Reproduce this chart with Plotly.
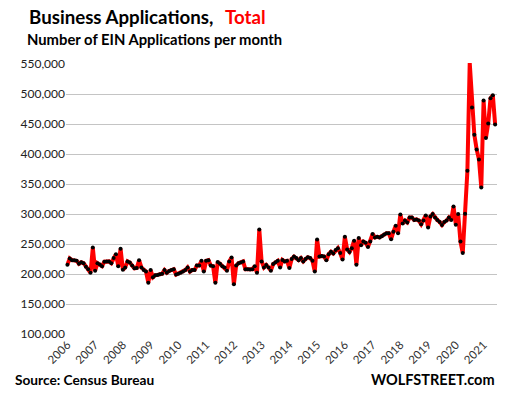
import plotly.graph_objects as go

years = [str(y) for y in range(2006, 2022)]
year_positions = [12 * k for k in range(16)]

# Monthly business applications (thousands), Jan 2006 - Jun 2021
apps_thousands = [
    215.5, 226, 223, 223, 222, 217, 219.5, 218, 212, 208, 202, 244,
    205.5, 218, 216, 213, 220.5, 221, 221, 218, 226.5, 233, 213, 242,
    207, 211, 221, 219, 214, 209.5, 210, 223, 211, 206.5, 204, 185.5,
    206.5, 194.5, 198, 198.5, 199.5, 200.5, 206.5, 202, 205, 206.5, 208, 199,
    200.5, 202, 204, 206.5, 211, 204, 206.5, 206.5, 214, 214, 222, 204,
    222, 223, 214, 213, 185.5, 220, 217, 213, 211, 205.5, 221, 227.7,
    183, 214, 218, 219, 221, 208, 208, 207.5, 208, 213, 202, 274.3,
    221, 211, 215, 211, 205.5, 216.7, 219.5, 222, 211, 223.5, 221, 222,
    210, 225, 229, 226.5, 223, 226.5, 221, 225, 228, 226.5, 222, 204,
    257.7, 229, 230, 229, 223, 233, 237, 234, 240, 243, 235, 224,
    262, 241, 236.5, 243, 255.5, 215.5, 260, 248, 254, 252, 245, 254,
    266.7, 261, 262, 261, 263, 266, 268, 268, 258, 270.5, 280.5, 268,
    299, 284, 289, 286, 294, 294, 290, 291, 289, 283, 289, 297.7,
    277.7, 296, 300, 294, 290, 286.7, 281.7, 286.7, 289, 294, 290, 312.7,
    282, 300, 254, 235, 300.5, 372, 552, 477.7, 432, 407.7, 391, 344.3,
    489, 426.7, 451, 493, 498, 449,
]
apps = [v * 1000 for v in apps_thousands]
month_index = list(range(len(apps)))

y_ticks = list(range(100000, 550001, 50000))
y_tick_text = [f"{v:,}" for v in y_ticks]

W, H = 508, 395
L, R, T, B = 66, 11, 63, 60
PW, PH = W - L - R, H - T - B
units_per_px = 50000 / 30.0
# 100,000 sits at y=334 px, 550,000 at y=64 px
y_lo = 100000 - (H - B - 334) * units_per_px
y_hi = y_lo + PH * units_per_px


def px(x):
    return (x - L) / PW


def py(y):
    return (H - B - y) / PH


fig = go.Figure()
fig.add_trace(go.Scatter(
    x=month_index, y=apps, mode="lines+markers",
    line=dict(color="#ff0000", width=4),
    marker=dict(color="#000000", size=4),
    cliponaxis=False, hoverinfo="skip", showlegend=False,
))

font_family = "Lato, Carlito, 'DejaVu Sans', sans-serif"

fig.update_layout(
    width=W, height=H,
    margin=dict(l=L, r=R, t=T, b=B, pad=0, autoexpand=False),
    paper_bgcolor="white", plot_bgcolor="white",
    font=dict(family=font_family, color="#222222", size=12),
    xaxis=dict(
        range=[-0.6, 185.8], tickmode="array",
        tickvals=year_positions, ticktext=years, tickangle=-45,
        showgrid=False, zeroline=False, showline=False, ticks="",
        automargin=False,
        tickfont=dict(size=11.5, color="#333333"),
    ),
    yaxis=dict(
        range=[y_lo, y_hi], tickmode="array", tickvals=y_ticks,
        ticktext=y_tick_text,
        showgrid=True, gridcolor="#c4c4c4", gridwidth=1.2,
        zeroline=False, showline=False, ticks="",
        automargin=False,
        tickfont=dict(size=12, color="#222222"),
    ),
    annotations=[
        dict(x=px(27), y=py(17), xref="paper", yref="paper",
             xanchor="left", yanchor="middle", showarrow=False,
             text="<b>Business Applications,</b>",
             font=dict(size=18.7, color="#000000")),
        dict(x=px(223), y=py(17), xref="paper", yref="paper",
             xanchor="left", yanchor="middle", showarrow=False,
             text="<b>Total</b>",
             font=dict(size=18.7, color="#ff0000")),
        dict(x=px(25), y=py(39), xref="paper", yref="paper",
             xanchor="left", yanchor="middle", showarrow=False,
             text="<b>Number of EIN Applications per month</b>",
             font=dict(size=14.8, color="#000000")),
        dict(x=px(13), y=py(379), xref="paper", yref="paper",
             xanchor="left", yanchor="middle", showarrow=False,
             text="<b>Source: Census Bureau</b>",
             font=dict(size=13.7, color="#000000")),
        dict(x=px(497), y=py(379), xref="paper", yref="paper",
             xanchor="right", yanchor="middle", showarrow=False,
             text="<b>WOLFSTREET.com</b>",
             font=dict(size=14.5, color="#000000")),
    ],
)

fig.write_html(
    "out.html",
    config={"displayModeBar": False},
    post_script="document.body.style.margin='0';document.body.style.padding='0';",
)
